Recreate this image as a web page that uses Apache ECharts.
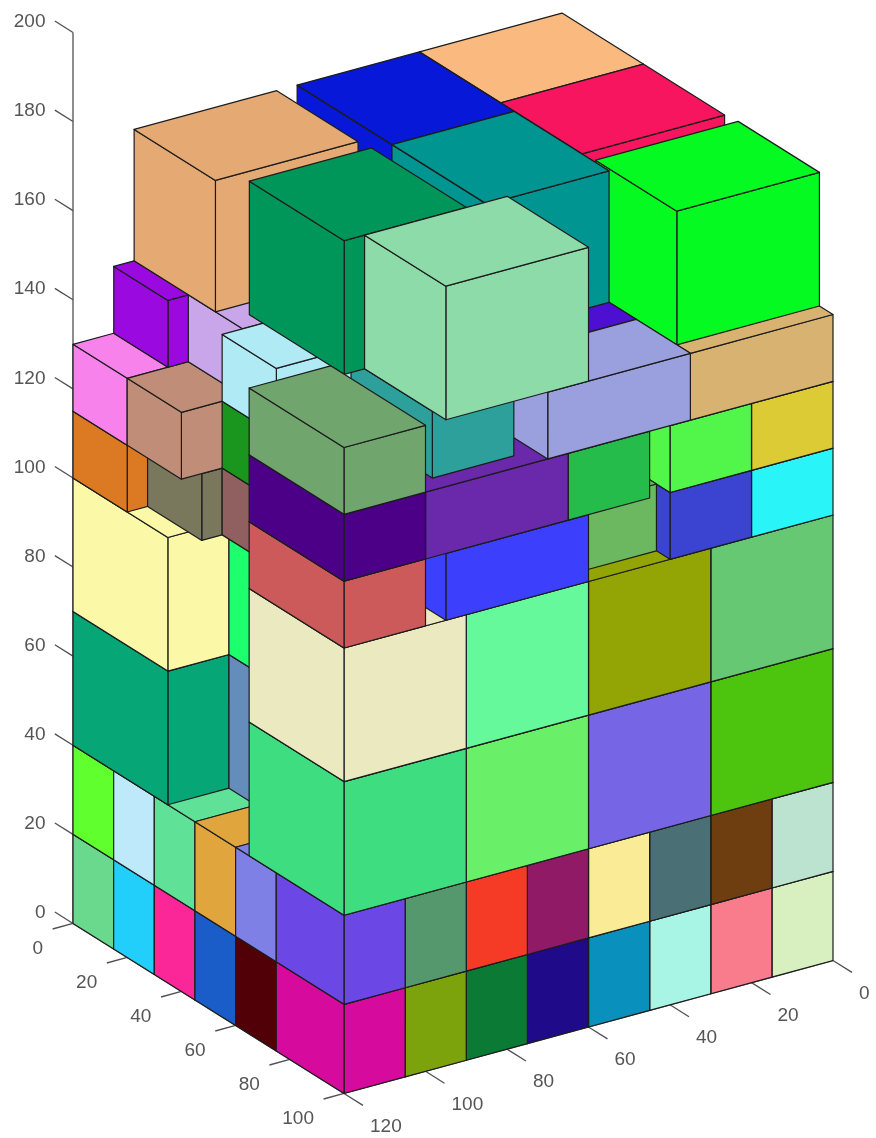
<!DOCTYPE html>
<html>
<head>
<meta charset="utf-8">
<style>html,body{margin:0;padding:0;background:#fff}#c{width:876px;height:1138px}</style>
<script src="https://cdn.jsdelivr.net/npm/echarts@6/dist/echarts.min.js"></script>
</head>
<body>
<div id="c"></div>
<script>
// Tick labels of the three axes
const xTicks = [0, 20, 40, 60, 80, 100, 120];
const yTicks = [0, 20, 40, 60, 80, 100];
const zTicks = [0, 20, 40, 60, 80, 100, 120, 140, 160, 180, 200];

// Box extents, one entry per box, in data units
const xFrom = [105,90,75,60,45,30,15,0, 105,90,75,60,45,30,15,0, 90,90,90,90,90, 90,90,90,90,90, 90,90,60,60,30,30,0,0, 105,105,80,80, 110,110,105,110,90,90,80,70,105,70,70,35,0,0,35,0,60, 75,100,100,100,65,35,35,0,0,0,20,20,45,60,40];
const xTo   = [120,105,90,75,60,45,30,15, 120,105,90,75,60,45,30,15, 120,120,120,120,120, 120,120,120,120,120, 120,120,90,90,60,60,30,30, 120,120,105,105, 120,120,120,115,110,110,110,105,110,105,100,65,35,35,65,35,95, 95,120,120,120,100,70,70,35,20,20,40,40,65,95,60];
const yFrom = [75,75,75,75,75,75,75,75, 75,75,75,75,75,75,75,75, 0,15,30,45,60, 0,15,30,45,60, 65,65,65,65,65,65,65,65, 0,0,35,35, 0,0,20,20,40,40,40,0,0,0,35,0,0,30,35,65,70, 65,65,65,65,65,80,40,65,65,65,65,65,65,65,65];
const yTo   = [100,100,100,100,100,100,100,100, 100,100,100,100,100,100,100,100, 15,30,45,60,75, 15,30,45,60,75, 100,100,100,100,100,100,100,100, 35,35,65,65, 20,20,40,40,65,65,60,40,20,30,70,35,30,60,70,95,100, 95,100,100,100,100,100,80,100,100,100,100,100,100,100,95];
const zFrom = [0,0,0,0,0,0,0,0, 20,20,20,20,20,20,20,20, 0,0,0,0,0, 20,20,20,20,20, 40,70,40,70,40,70,40,70, 40,70,40,70, 100,115,115,100,100,115,130,130,130,145,145,145,145,145,145,145,145, 130,130,115,100,115,130,130,130,115,100,115,100,115,100,100];
const zTo   = [20,20,20,20,20,20,20,20, 40,40,40,40,40,40,40,40, 20,20,20,20,20, 40,40,40,40,40, 70,100,70,100,70,100,70,100, 70,100,70,100, 115,130,130,115,115,130,145,145,145,174.5,175,174.5,174.5,174.5,174.5,175,175, 145,145,130,115,130,145,145,145,130,115,130,115,130,115,115];
const boxColors = ['#d60a9d','#7da30c','#0a7a35','#1f0a8a','#0a90bc','#a8f5e6','#f87c8c','#d8f0bf',
 '#6b47e6','#56986e','#f53a26','#911a66','#faeb96','#4a7075','#6e3d10','#bce2d0',
 '#6bd98d','#22cffa','#fb2799','#1a5cc8','#520007',
 '#60ff2e','#bde9fa','#5fe298','#e1a53e','#7e80e6',
 '#3edd7f','#ebe9c0','#6aef68','#66f99b','#7666e6','#92a505','#4dc50f','#66c872',
 '#07a676','#fbf9a8','#648dbb','#1eff6e',
 '#db7a22','#f882ec','#c08e78','#79775c','#906060','#1a961e','#b0eaf5','#c9a5e9','#9a0ae0','#e5aa74','#00965a','#0818d8','#fab97f','#f71560','#009590','#04fa20','#8edbaa',
 '#2ea09c','#70a56e','#4c0088','#cc5a5a','#6a28aa','#9aa0dd','#4d10d0','#d8b270','#dccb35','#29f5f8','#52f54a','#3b44d0','#26bc4b','#3c40fc','#6cb860'];

// Orthographic view: data (x, y, z) -> plane of the hidden cartesian axes
const view = {u0: 562, ux: -4.075, uy: 2.71, v0: 790.5, vx: 1.108, vy: 1.70, vz: -4.455};
const project = (x, y, z) => [view.u0 + view.ux * x + view.uy * y, view.v0 + view.vx * x + view.vy * y + view.vz * z];

// Back-to-front order so nearer boxes paint over farther ones
function paintOrder() {
  const n = xFrom.length, behind = (a, b) => xTo[a] <= xFrom[b] || yTo[a] <= yFrom[b] || zTo[a] <= zFrom[b];
  const left = new Set(Array.from({length: n}, (_, i) => i)), out = [];
  while (left.size) {
    let pick = -1;
    for (const i of left) {
      let free = true;
      for (const j of left) if (j !== i && behind(j, i) && !behind(i, j)) { free = false; break; }
      if (free) { pick = i; break; }
    }
    if (pick < 0) pick = left.values().next().value;
    left.delete(pick); out.push(pick);
  }
  return out;
}
const boxData = paintOrder().map(i => [xFrom[i], xTo[i], yFrom[i], yTo[i], zFrom[i], zTo[i], i]);

const edge = '#1c1c1c';
function renderBox(params, api) {
  const [x0, x1, y0, y1, z0, z1] = [0, 1, 2, 3, 4, 5].map(k => api.value(k));
  const color = boxColors[api.value(6)];
  const P = (x, y, z) => api.coord(project(x, y, z));
  const face = pts => ({type: 'polygon', shape: {points: pts}, style: {fill: color, stroke: edge, lineWidth: 1.2, lineJoin: 'round'}});
  return {type: 'group', children: [
    face([P(x0, y1, z0), P(x1, y1, z0), P(x1, y1, z1), P(x0, y1, z1)]),
    face([P(x1, y0, z0), P(x1, y1, z0), P(x1, y1, z1), P(x1, y0, z1)]),
    face([P(x0, y0, z1), P(x1, y0, z1), P(x1, y1, z1), P(x0, y1, z1)])
  ]};
}

// Axis lines, ticks, labels
const axisData = [];
axisData.push(['line', 120, 0, 0, 120, 0, 200]);
axisData.push(['line', 0, 100, 0, 120, 100, 0]);
axisData.push(['line', 120, 0, 0, 120, 100, 0]);
zTicks.forEach(t => axisData.push(['tick', 120, 0, t, 120, -6.7, t, String(t), -27.5, -10.5, 'right']));
yTicks.forEach(t => axisData.push(['tick', 120, t, 0, 125, t, 0, String(t), -30, 25.5, 'right']));
xTicks.forEach(t => axisData.push(['tick', t, 100, 0, t, 107, 0, String(t), 26, 33, 'left']));

function renderAxis(params, api) {
  const d = axisData[params.dataIndex];
  const a = api.coord(project(d[1], d[2], d[3])), b = api.coord(project(d[4], d[5], d[6]));
  const line = {type: 'line', shape: {x1: a[0], y1: a[1], x2: b[0], y2: b[1]}, style: {stroke: '#505050', lineWidth: 1.3}};
  if (d[0] === 'line') return line;
  return {type: 'group', children: [line, {type: 'text', style: {
    text: d[7], x: a[0] + d[8], y: a[1] + d[9], align: d[10], verticalAlign: 'middle',
    fill: '#555555', font: '19px "Liberation Sans", Arial, sans-serif'}}]};
}

const chart = echarts.init(document.getElementById('c'));
chart.setOption({
  animation: false,
  backgroundColor: '#ffffff',
  grid: {left: 0, right: 0, top: 0, bottom: 0},
  xAxis: {type: 'value', min: 0, max: 876, show: false},
  yAxis: {type: 'value', min: 0, max: 1138, inverse: true, show: false},
  series: [
    {type: 'custom', silent: true, clip: false, z: 1, data: axisData.map((d, i) => [i]), encode: {x: 0, y: 0}, renderItem: renderAxis},
    {type: 'custom', silent: true, clip: false, z: 2, data: boxData, encode: {x: 0, y: 2}, renderItem: renderBox}
  ]
});
</script>
</body>
</html>
